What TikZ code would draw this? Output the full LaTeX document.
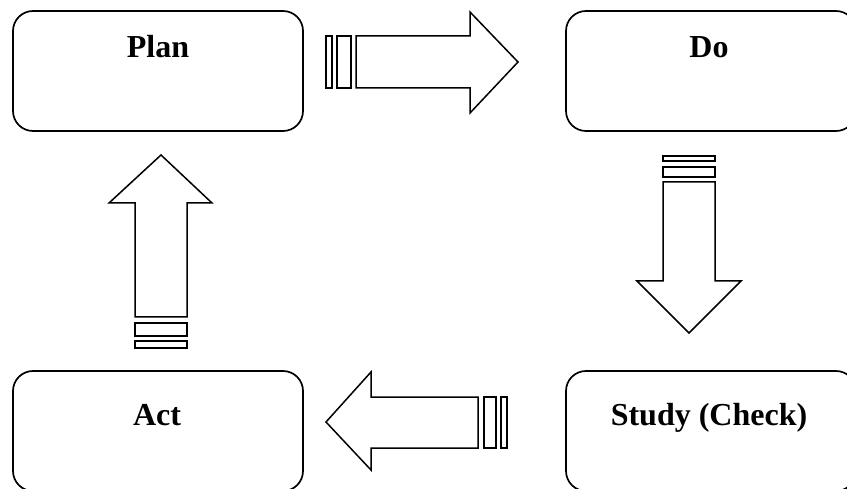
\documentclass[tikz,border=0pt]{standalone}
\usepackage{fontspec}
\setmainfont{Liberation Serif}
\begin{document}
\begin{tikzpicture}[x=1pt,y=-1pt,
  box/.style={draw=black, line width=1.7pt, rounded corners=20pt, minimum width=290pt, minimum height=120pt, inner sep=0pt},
  lbl/.style={font=\fontsize{32}{38}\selectfont\bfseries, anchor=base, inner sep=0pt},
  blk/.style={draw=black, line width=1.5pt, fill=white, line join=miter}]
\useasboundingbox (0,0) rectangle (847,489);
\clip (0,0) rectangle (847,489);
\fill[white] (0,0) rectangle (847,489);
% boxes
\node[box] (plan) at (158,71) {};
\node[box] (do) at (711,71) {};
\node[box] (study) at (711,431) {};
\node[box] (act) at (158,431) {};
\node[lbl] (tplan) at (158,58) {Plan};
\node[lbl] (tdo) at (709,58) {Do};
\node[lbl] (tstudy) at (709,425) {Study (Check)};
\node[lbl] (tact) at (157,425) {Act};
% right arrow (Plan -> Do)
\draw[blk] (326,36) rectangle (332,88);
\draw[blk] (337,36) rectangle (351,88);
\draw[blk] (356,36) -- (470,36) -- (470,12) -- (518,62) -- (470,113) -- (470,88) -- (356,88) -- cycle;
% down arrow (Do -> Study)
\draw[blk] (663,156) rectangle (715,161);
\draw[blk] (663,167) rectangle (715,177);
\draw[blk] (663,182) -- (715,182) -- (715,281) -- (741,281) -- (689,333) -- (637,281) -- (663,281) -- cycle;
% left arrow (Study -> Act)
\draw[blk] (501,397) rectangle (507,448);
\draw[blk] (484,397) rectangle (496,448);
\draw[blk] (478,397) -- (371,397) -- (371,372) -- (326,422) -- (371,470) -- (371,448) -- (478,448) -- cycle;
% up arrow (Act -> Plan)
\draw[blk] (135,341) rectangle (187,348);
\draw[blk] (135,323) rectangle (187,336);
\draw[blk] (135,317) -- (135,203) -- (109,203) -- (161,155) -- (212,203) -- (187,203) -- (187,317) -- cycle;
\end{tikzpicture}
\end{document}
